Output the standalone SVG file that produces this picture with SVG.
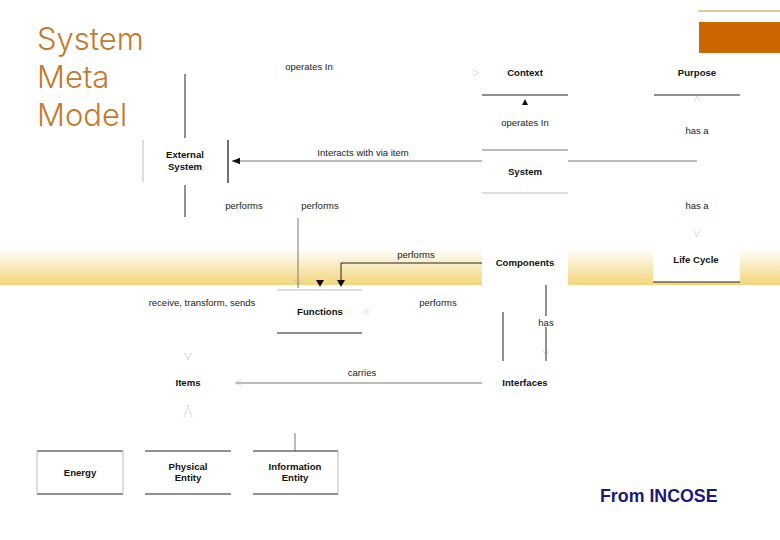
<svg xmlns="http://www.w3.org/2000/svg" width="780" height="540" viewBox="0 0 780 540">
<defs>
<linearGradient id="band" x1="0" y1="0" x2="0" y2="1">
<stop offset="0" stop-color="#ffffff"/>
<stop offset="1" stop-color="#f3d57a"/>
</linearGradient>
<marker id="fill" viewBox="0 0 10 10" refX="10" refY="5" markerWidth="8" markerHeight="8" orient="auto" markerUnits="userSpaceOnUse">
<path d="M0,1 L10,5 L0,9 z" fill="#111"/>
</marker>
</defs>
<style>
.title{font-family:Inter,"Open Sans",sans-serif;font-size:31px;fill:#c47a2c;font-weight:300;letter-spacing:0}
.n{font-family:"Liberation Sans",Arial,sans-serif;font-size:9.6px;font-weight:bold;fill:#111;text-anchor:middle}
.l{font-family:"Liberation Sans",Arial,sans-serif;font-size:9.5px;fill:#222;text-anchor:middle}
.dk{stroke:#222;stroke-width:1;fill:none}
.gr{stroke:#777;stroke-width:1;fill:none}
.lg{stroke:#bbb;stroke-width:1;fill:none}
.dot{stroke:#aaa;stroke-width:0.8;fill:none;stroke-dasharray:1 1}
.wb{fill:#fff}
</style>
<rect width="780" height="540" fill="#fff"/>
<rect x="0" y="248" width="780" height="37" fill="url(#band)"/>
<line x1="698" y1="11" x2="780" y2="11" stroke="#c8903c" stroke-width="1"/>
<rect x="699" y="22" width="81" height="31" fill="#cc6600"/>
<text class="title" x="37" y="50">System</text>
<text class="title" x="37" y="88">Meta</text>
<text class="title" x="37" y="126">Model</text>

<g id="connectors">
<line class="dk" x1="185" y1="74" x2="185" y2="138"/>
<line class="dk" x1="185" y1="185" x2="185" y2="217"/>
<line class="gr" x1="568" y1="161" x2="697" y2="161"/>
<line class="gr" x1="482" y1="161" x2="232" y2="161" marker-end="url(#fill)"/>
<path d="M525,99 L522,105 L528,105 z" fill="#111"/>
<path d="M525,241 L522,234 L528,234 z" fill="#111"/>
<line class="gr" x1="298" y1="218" x2="298" y2="288"/>
<path d="M320,287 L316,280 L324,280 z" fill="#111"/>
<path class="dk" d="M482,263 L341,263 L341,281"/>
<path d="M341,287 L337,280 L345,280 z" fill="#111"/>
<line class="dk" x1="546" y1="285" x2="546" y2="361"/>
<line class="dk" x1="503" y1="312" x2="503" y2="361"/>
<line class="gr" x1="482" y1="383" x2="236" y2="383"/>
<line class="gr" x1="295" y1="433" x2="295" y2="451"/>
<path class="dot" d="M473,70 L479,73 L473,76"/>
<path class="dot" d="M694,102 L697,96 L700,102"/>
<path class="dot" d="M694,230 L697,237 L700,230"/>
<path class="dot" d="M295,280 L298,286 L301,280"/>
<path class="dot" d="M370,309 L364,312 L370,315"/>
<path class="dot" d="M543,350 L546,356 L549,350"/>
<path class="dot" d="M185,353 L188,360 L191,353"/>
<path class="dot" d="M241,380 L235,383 L241,386"/>
<path class="dot" d="M184,417 L188,405 L192,417"/>
<rect class="wb" x="530" y="316" width="32" height="11"/>
<text class="l" x="546" y="326">has</text>
<text class="l" x="309" y="70">operates In</text>
<text class="l" x="363" y="156">Interacts with via item</text>
<text class="l" x="244" y="209">performs</text>
<text class="l" x="320" y="209">performs</text>
<text class="l" x="416" y="258">performs</text>
<text class="l" x="438" y="306">performs</text>
<text class="l" x="202" y="306">receive, transform, sends</text>
<text class="l" x="362" y="376">carries</text>
<text class="l" x="525" y="126">operates In</text>
<text class="l" x="525" y="220">built from</text>
<text class="l" x="697" y="134">has a</text>
<text class="l" x="697" y="209">has a</text>
</g>

<g id="external-system">
<line class="lg" x1="143" y1="140" x2="143" y2="182"/>
<line x1="228" y1="140" x2="228" y2="183" stroke="#111" stroke-width="1.2"/>
<text class="n" x="185" y="158">External</text>
<text class="n" x="185" y="170">System</text>
</g>
<g id="context">
<line class="dk" x1="482" y1="95" x2="568" y2="95"/>
<text class="n" x="525" y="76">Context</text>
</g>
<g id="purpose">
<line class="dk" x1="654" y1="95" x2="740" y2="95"/>
<text class="n" x="697" y="76">Purpose</text>
</g>
<g id="system">
<line class="gr" x1="482" y1="150" x2="568" y2="150"/>
<line class="lg" x1="482" y1="193" x2="568" y2="193"/>
<text class="n" x="525" y="175">System</text>
</g>
<g id="components">
<rect class="wb" x="482" y="194" width="86" height="91"/>
<text class="n" x="525" y="266">Components</text>
</g>
<g id="life-cycle">
<rect class="wb" x="653" y="245" width="87" height="37"/>
<line class="dk" x1="653" y1="282" x2="740" y2="282"/>
<text class="n" x="696" y="263">Life Cycle</text>
</g>
<g id="functions">
<line class="lg" x1="277" y1="290" x2="362" y2="290"/>
<line class="dk" x1="277" y1="333" x2="362" y2="333"/>
<text class="n" x="320" y="315">Functions</text>
</g>
<g id="items">
<text class="n" x="188" y="386">Items</text>
</g>
<g id="interfaces">
<text class="n" x="525" y="386">Interfaces</text>
</g>
<g id="energy">
<line class="dk" x1="37" y1="451" x2="123" y2="451"/>
<line class="dk" x1="37" y1="494" x2="123" y2="494"/>
<line class="lg" x1="37" y1="451" x2="37" y2="494"/>
<line class="lg" x1="123" y1="451" x2="123" y2="494"/>
<text class="n" x="80" y="476">Energy</text>
</g>
<g id="physical-entity">
<line class="dk" x1="145" y1="451" x2="231" y2="451"/>
<line class="dk" x1="145" y1="494" x2="231" y2="494"/>
<text class="n" x="188" y="470">Physical</text>
<text class="n" x="188" y="481">Entity</text>
</g>
<g id="information-entity">
<line class="dk" x1="253" y1="451" x2="338" y2="451"/>
<line class="dk" x1="253" y1="494" x2="338" y2="494"/>
<line class="lg" x1="338" y1="451" x2="338" y2="494"/>
<text class="n" x="295" y="470">Information</text>
<text class="n" x="295" y="481">Entity</text>
</g>
<text x="600" y="502" font-family="Liberation Sans,Arial,sans-serif" font-size="17.8" font-weight="bold" fill="#1a1a7a">From INCOSE</text>
</svg>
